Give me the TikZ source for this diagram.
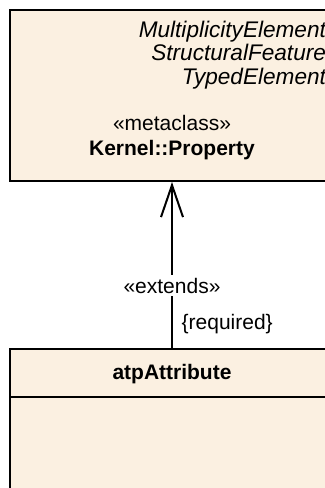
\documentclass[tikz,border=0pt]{standalone}
\usepackage{fontspec}
\setmainfont{Liberation Sans}
\usetikzlibrary{arrows.meta}
\definecolor{classfill}{RGB}{251,240,225}

\begin{document}
\begin{tikzpicture}[x=0.5pt,y=-0.5pt,font=\fontsize{10.5}{12}\selectfont]
			\useasboundingbox (0,0) rectangle (325,488);
			\clip (0,0) rectangle (325,488);
			\node[draw,rectangle,minimum width=162pt,minimum height=85.5pt,fill=classfill,line width=1pt,inner sep=0pt] (prop) at (172,95.5){};
			\node[draw,rectangle,minimum width=162pt,minimum height=85.5pt,fill=classfill,line width=1pt,inner sep=0pt] (attr) at (172,434.5){};
			\draw[line width=1pt] (attr.north west) ++(0,49) coordinate (sep) -- (sep -| attr.east);
			\node[anchor=base east,font=\fontsize{11.3}{12}\selectfont\itshape] (gen1) at (333,37){MultiplicityElement};
			\node[anchor=base east,font=\fontsize{11.3}{12}\selectfont\itshape] (gen2) at (333,60.5){StructuralFeature};
			\node[anchor=base east,font=\fontsize{11.3}{12}\selectfont\itshape] (gen3) at (333,84){TypedElement};
			\node (stereo) at (172,123){«metaclass»};
			\node[font=\fontsize{10.5}{12}\selectfont\bfseries] (pname) at (172,150){Kernel::Property};
			\node[font=\fontsize{10.5}{12}\selectfont\bfseries] (aname) at (172,374){atpAttribute};
			\draw (attr.north) edge [-{Straight Barb[length=16pt,width=11pt]}, line width=1pt] node[pos=0.375,fill=white,inner sep=1.5pt] (ext) {«extends»} node[pos=0.143,anchor=west,xshift=1pt] (req) {\{required\}} (prop.south);
		\end{tikzpicture}
\end{document}
